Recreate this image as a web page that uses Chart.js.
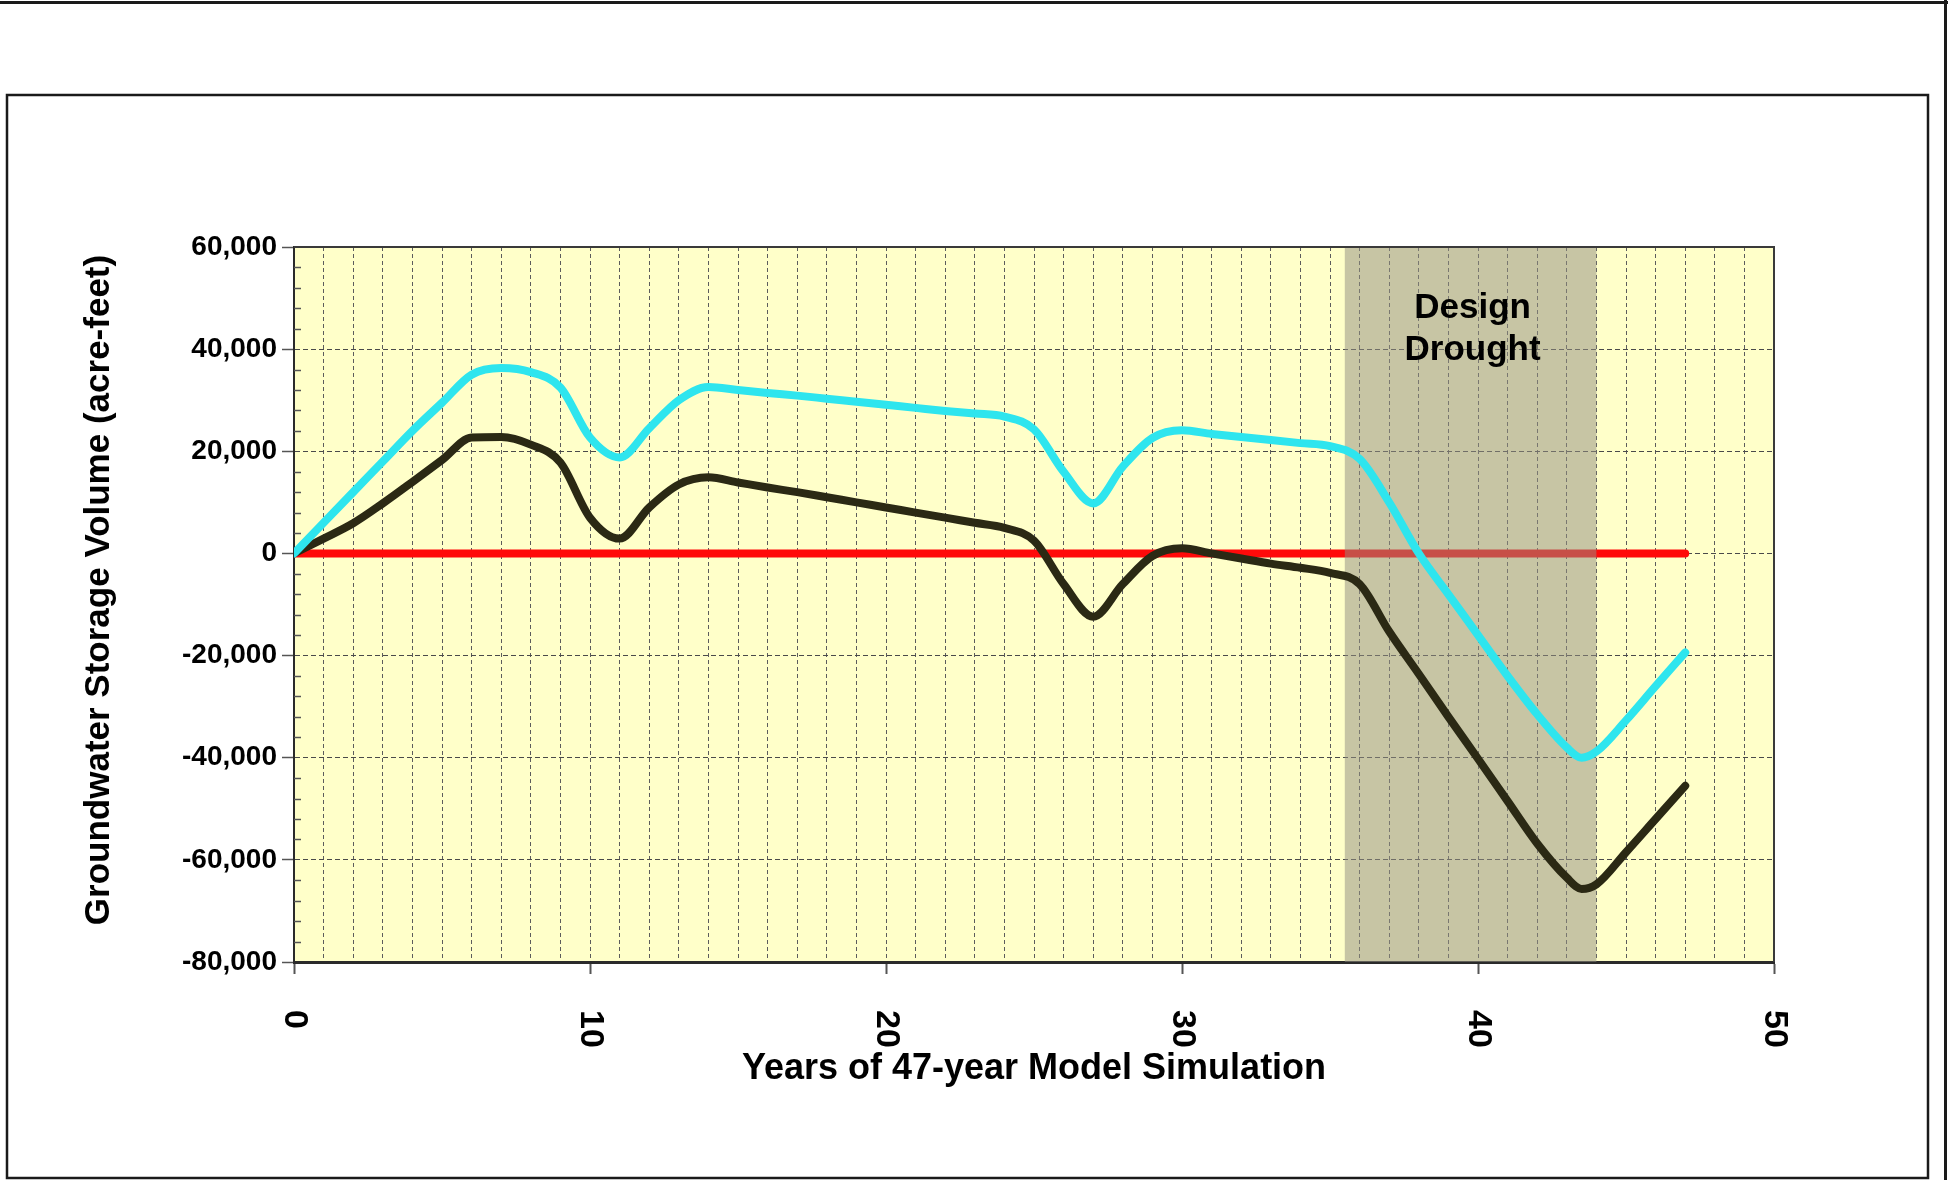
<!DOCTYPE html>
<html><head><meta charset="utf-8">
<script src="https://cdn.jsdelivr.net/npm/chart.js@4.4.1/dist/chart.umd.min.js"></script>
<style>html,body{margin:0;padding:0;background:#fff;}canvas{display:block;}</style>
</head><body>
<canvas id="c" width="1948" height="1180"></canvas>
<script>
// ---- data ----
const years = [0,1,2,3,4,5,6,7,8,9,10,11,12,13,14,15,16,17,18,19,20,21,22,23,24,25,26,27,28,29,30,31,32,33,34,35,36,37,38,39,40,41,42,43,43.5,44,45,46,47];
const cyanSeries = [0,6000,12000,18000,24000,29500,35000,36300,35500,32500,22700,18800,24500,30000,32600,32000,31400,30900,30300,29700,29100,28500,27900,27400,26800,24300,16000,9800,17000,22600,24100,23400,22800,22200,21600,21000,18500,10000,0,-8000,-16000,-24000,-31500,-38000,-40000,-38800,-32700,-26000,-19400];
const darkSeries = [0,2900,5900,9800,14000,18300,22700,22800,21300,17800,7000,2900,9000,13500,14900,13900,12900,12000,11000,10000,9000,8000,7000,6000,5000,2500,-6000,-12400,-6000,-500,1000,0,-1000,-2000,-2800,-3800,-6000,-15300,-23600,-32000,-40200,-48500,-56800,-63500,-65700,-64800,-58500,-52000,-45500];
const zeroYears = [0,47];
const zeroSeries = [0,0];
const droughtRange = [35.5,44];
const droughtLabel = ['Design','Drought'];
const xTickLabels = [0,10,20,30,40,50];
const yTickValues = [-80000,-60000,-40000,-20000,0,20000,40000,60000];
const xTitle = 'Years of 47-year Model Simulation';
const yTitle = 'Groundwater Storage Volume (acre-feet)';

const FONT = '"Liberation Sans", Arial, Helvetica, sans-serif';
const toXY = (xs, ys) => xs.map((x, i) => ({x, y: ys[i]}));

const decor = {
  id: 'decor',
  beforeDraw(chart) {
    const {ctx, chartArea: a} = chart;
    ctx.save();
    ctx.fillStyle = '#ffffff';
    ctx.fillRect(0, 0, chart.width, chart.height);
    ctx.fillStyle = '#ffffc9';
    ctx.fillRect(a.left, a.top, a.right - a.left, a.bottom - a.top);
    ctx.restore();
  },
  afterDatasetDraw(chart, args) {
    if (args.index !== 2) return;
    const {ctx, chartArea: a} = chart;
    const xs = chart.scales.x;
    const x0 = xs.getPixelForValue(droughtRange[0]);
    const x1 = xs.getPixelForValue(droughtRange[1]);
    ctx.save();
    ctx.fillStyle = 'rgba(148,143,130,0.52)';
    ctx.fillRect(x0, a.top, x1 - x0, a.bottom - a.top);
    ctx.restore();
  },
  afterDraw(chart) {
    const {ctx, chartArea: a} = chart;
    const xs = chart.scales.x, ys = chart.scales.y;
    ctx.save();
    // top & right frame of plot
    ctx.strokeStyle = '#3a3a3a';
    ctx.lineWidth = 2;
    ctx.beginPath();
    ctx.moveTo(a.left, a.top); ctx.lineTo(a.right, a.top); ctx.lineTo(a.right, a.bottom);
    ctx.stroke();
    // minor inward y ticks
    ctx.strokeStyle = '#555';
    ctx.lineWidth = 1.5;
    for (let v = -80000; v <= 60000; v += 4000) {
      if (v % 20000 === 0) continue;
      const y = Math.round(ys.getPixelForValue(v)) + 0.5;
      ctx.beginPath(); ctx.moveTo(a.left, y); ctx.lineTo(a.left + 7, y); ctx.stroke();
    }
    // x tick labels rotated clockwise
    ctx.fillStyle = '#000';
    ctx.font = 'bold 34px ' + FONT;
    ctx.textAlign = 'left';
    ctx.textBaseline = 'middle';
    xTickLabels.forEach(v => {
      const x = xs.getPixelForValue(v);
      ctx.save();
      ctx.translate(x, a.bottom + 48);
      ctx.rotate(Math.PI / 2);
      ctx.fillText(String(v), 0, 0);
      ctx.restore();
    });
    // y axis title
    ctx.save();
    ctx.font = 'bold 35px ' + FONT;
    ctx.textAlign = 'center';
    ctx.textBaseline = 'middle';
    ctx.translate(99, 590);
    ctx.rotate(-Math.PI / 2);
    ctx.fillText(yTitle, 0, 0);
    ctx.restore();
    // drought label
    ctx.font = 'bold 35px ' + FONT;
    ctx.textAlign = 'center';
    ctx.textBaseline = 'alphabetic';
    const cx = xs.getPixelForValue((droughtRange[0] + droughtRange[1]) / 2);
    ctx.fillText(droughtLabel[0], cx + 2, a.top + 71);
    ctx.fillText(droughtLabel[1], cx + 2, a.top + 113);
    // page frame
    ctx.strokeStyle = '#1a1a1a';
    ctx.lineWidth = 2.5;
    ctx.strokeRect(7, 95, 1921, 1083);
    ctx.lineWidth = 3;
    ctx.beginPath();
    ctx.moveTo(0, 2.5); ctx.lineTo(1948, 2.5);
    ctx.moveTo(1945.5, 0); ctx.lineTo(1945.5, 1180);
    ctx.stroke();
    ctx.restore();
  }
};

new Chart(document.getElementById('c'), {
  type: 'line',
  data: {
    datasets: [
      {label: 'cyan', data: toXY(years, cyanSeries), borderColor: '#2ee5ee', borderWidth: 8,
       pointRadius: 0, cubicInterpolationMode: 'monotone', borderCapStyle: 'round', borderJoinStyle: 'round'},
      {label: 'dark', data: toXY(years, darkSeries), borderColor: '#2b2914', borderWidth: 8,
       pointRadius: 0, cubicInterpolationMode: 'monotone', borderCapStyle: 'round', borderJoinStyle: 'round'},
      {label: 'zero', data: toXY(zeroYears, zeroSeries), borderColor: '#ff0a0a', borderWidth: 8,
       pointRadius: 0, borderCapStyle: 'round'}
    ]
  },
  options: {
    responsive: false,
    animation: false,
    devicePixelRatio: 1,
    layout: {padding: {left: 60, top: 247, right: 174, bottom: 60}},
    plugins: {legend: {display: false}, tooltip: {enabled: false}},
    scales: {
      x: {
        type: 'linear', min: 0, max: 50,
        ticks: {display: false, stepSize: 1},
        grid: {color: '#5c5c5c', lineWidth: 1, tickLength: 12, tickWidth: 2,
               tickColor: c => (c.tick && c.tick.value % 10 === 0) ? '#555' : 'rgba(0,0,0,0)'},
        border: {display: true, color: '#2a2a2a', width: 3, dash: [4, 3]},
        title: {display: true, text: xTitle, color: '#000',
                font: {family: FONT, size: 36, weight: 'bold'}, padding: {top: 0, bottom: 29}},
        afterFit: s => { s.height = 158; }
      },
      y: {
        type: 'linear', min: -80000, max: 60000,
        afterBuildTicks: s => { s.ticks = yTickValues.map(v => ({value: v})); },
        ticks: {color: '#000', padding: 5, font: {family: FONT, size: 28, weight: 'bold'},
                callback: v => v.toLocaleString('en-US')},
        grid: {color: '#4a4a4a', lineWidth: 1, tickLength: 12, tickWidth: 1.5, tickColor: '#555'},
        border: {display: true, color: '#2a2a2a', width: 2, dash: [5, 3]},
        title: {display: false},
        afterFit: s => { s.width = 234; }
      }
    }
  },
  plugins: [decor]
});
</script>
</body></html>
